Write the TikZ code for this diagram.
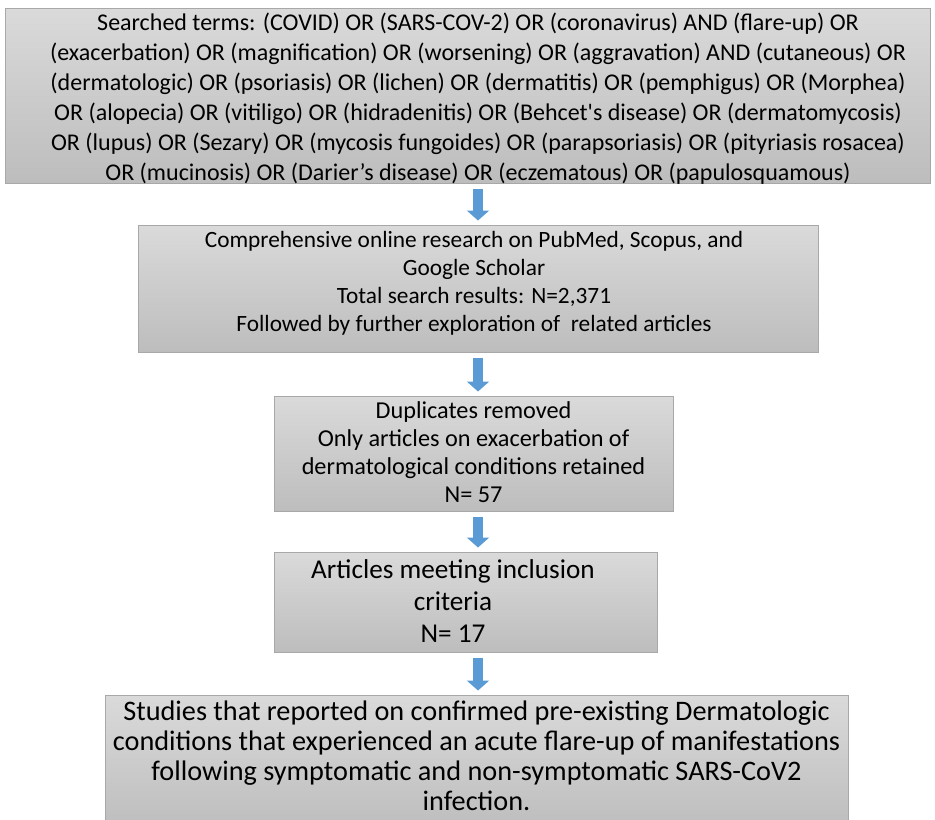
\documentclass[tikz,border=0pt]{standalone}
\usepackage{fontspec}
\setmainfont{Carlito}
\usetikzlibrary{arrows.meta,calc}
\definecolor{boxtop}{HTML}{DADADA}
\definecolor{boxbot}{HTML}{BDBDBD}
\definecolor{boxline}{HTML}{A8A8A8}
\definecolor{arrowblue}{HTML}{5B9BD5}
\tikzset{
  graybox/.style={draw=boxline, line width=0.75pt, top color=boxtop, bottom color=boxbot, inner sep=0pt},
  boxtext/.style={align=center, inner sep=0pt, text=black},
  blockarrow/.style={draw=arrowblue, line width=7.5pt, -{Triangle[width=16.5pt,length=7.5pt]}, shorten <=3.75pt, shorten >=3pt}
}
\begin{document}
\begin{tikzpicture}[x=0.75pt,y=-0.75pt]
\useasboundingbox (0,0) rectangle (935,819);
\node[graybox, minimum width=925*0.75pt, minimum height=175*0.75pt] (b1) at (467.5,95.5) {};
\node[graybox, minimum width=680*0.75pt, minimum height=127*0.75pt] (b2) at (478,288.5) {};
\node[graybox, minimum width=399*0.75pt, minimum height=115*0.75pt] (b3) at (473.5,453.5) {};
\node[graybox, minimum width=383*0.75pt, minimum height=100*0.75pt] (b4) at (465.5,602) {};
\node[graybox, minimum width=743*0.75pt, minimum height=135*0.75pt] (b5) at (476.5,762.5) {};

\node[boxtext, font=\fontsize{18}{22.5}\selectfont] (t1) at (478,98.5) {Searched terms: (COVID) OR (SARS-COV-2) OR (coronavirus) AND (flare-up) OR\\
(exacerbation) OR (magnification) OR (worsening) OR (aggravation) AND (cutaneous) OR\\
(dermatologic) OR (psoriasis) OR (lichen) OR (dermatitis) OR (pemphigus) OR (Morphea)\\
OR (alopecia) OR (vitiligo) OR (hidradenitis) OR (Behcet\textquotesingle s disease) OR (dermatomycosis)\\
OR (lupus) OR (Sezary) OR (mycosis fungoides) OR (parapsoriasis) OR (pityriasis rosacea)\\
OR (mucinosis) OR (Darier’s disease) OR (eczematous) OR (papulosquamous)};

\node[boxtext, font=\fontsize{17.5}{21}\selectfont] (t2) at (474,283) {Comprehensive online research on PubMed, Scopus, and\\
Google Scholar\\
Total search results: N=2,371\\
Followed by further exploration of\ \ related articles};

\node[boxtext, font=\fontsize{18.2}{21}\selectfont] (t3) at (473.5,452.5) {Duplicates removed\\
Only articles on exacerbation of\\
dermatological conditions retained\\
N= 57};

\node[boxtext, font=\fontsize{20.4}{24}\selectfont] (t4) at (453,601.5) {Articles meeting inclusion\\
criteria\\
N= 17};

\node[boxtext, font=\fontsize{21.2}{22.5}\selectfont] (t5) at (476.5,756) {Studies that reported on confirmed pre-existing Dermatologic\\
conditions that experienced an acute flare-up of manifestations\\
following symptomatic and non-symptomatic SARS-CoV2\\
infection.};

\draw[blockarrow] (b2.north |- b1.south) -- (b2.north);
\draw[blockarrow] (b2.south) -- (b2.south |- b3.north);
\draw[blockarrow] (b2.south |- b3.south) -- (b2.south |- b4.north);
\draw[blockarrow] (b2.south |- b4.south) -- (b2.south |- b5.north);
\end{tikzpicture}
\end{document}
